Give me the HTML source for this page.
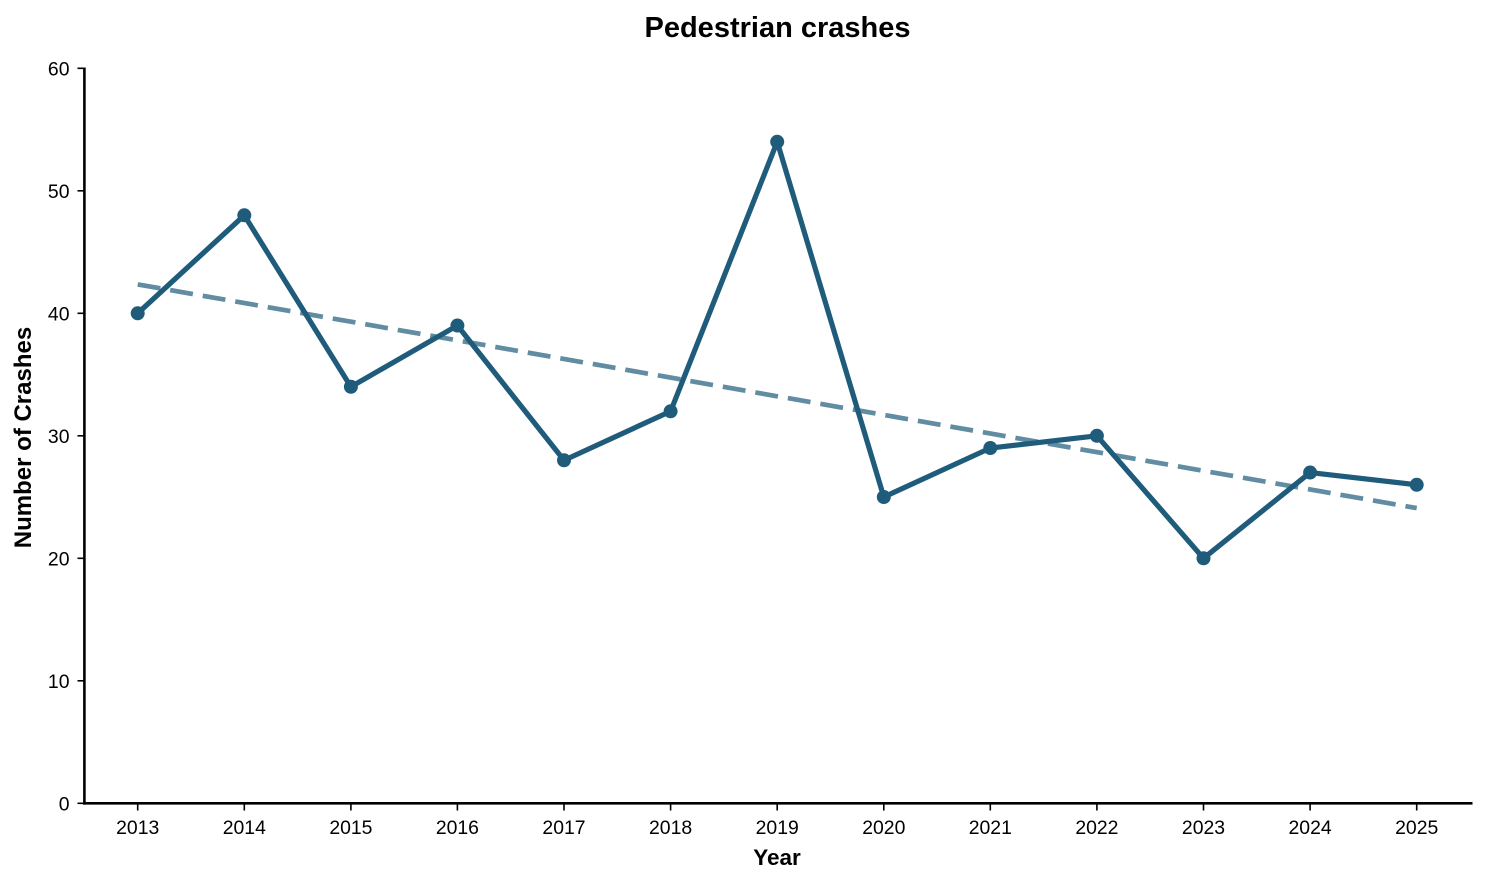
<!DOCTYPE html>
<html>
<head>
<meta charset="utf-8">
<style>
  html, body { margin: 0; padding: 0; background: #ffffff; }
  svg { display: block; }
  text { font-family: "Liberation Sans", Arial, sans-serif; fill: #000; }
</style>
</head>
<body>
<svg width="1485" height="884" viewBox="0 0 1485 884" xmlns="http://www.w3.org/2000/svg">
  <rect width="1485" height="884" fill="#ffffff"/>

  <!-- Title -->
  <text x="777.5" y="37" font-size="29" font-weight="bold" text-anchor="middle">Pedestrian crashes</text>

  <!-- Trend line -->
  <line x1="137.7" y1="284.4" x2="1416.7" y2="508.1" stroke="#1f5b7b" stroke-opacity="0.7" stroke-width="4.7" stroke-dasharray="23 10" stroke-linecap="butt"/>

  <!-- Data line -->
  <polyline fill="none" stroke="#1f5b7b" stroke-width="5.2" stroke-linejoin="round" stroke-linecap="round"
    points="137.7,313.3 244.3,215.3 350.9,386.8 457.4,325.55 564.0,460.3 670.6,411.3 777.2,141.8 883.8,497.05 990.3,448.05 1096.9,435.8 1203.5,558.3 1310.1,472.55 1416.7,484.8"/>

  <!-- Markers -->
  <g fill="#1f5b7b">
    <circle cx="137.7" cy="313.3" r="7"/>
    <circle cx="244.3" cy="215.3" r="7"/>
    <circle cx="350.9" cy="386.8" r="7"/>
    <circle cx="457.4" cy="325.55" r="7"/>
    <circle cx="564.0" cy="460.3" r="7"/>
    <circle cx="670.6" cy="411.3" r="7"/>
    <circle cx="777.2" cy="141.8" r="7"/>
    <circle cx="883.8" cy="497.05" r="7"/>
    <circle cx="990.3" cy="448.05" r="7"/>
    <circle cx="1096.9" cy="435.8" r="7"/>
    <circle cx="1203.5" cy="558.3" r="7"/>
    <circle cx="1310.1" cy="472.55" r="7"/>
    <circle cx="1416.7" cy="484.8" r="7"/>
  </g>

  <!-- Spines -->
  <line x1="84.4" y1="67.5" x2="84.4" y2="804.6" stroke="#000" stroke-width="2.6"/>
  <line x1="83.1" y1="803.3" x2="1472.5" y2="803.3" stroke="#000" stroke-width="2.6"/>

  <!-- Y ticks -->
  <g stroke="#000" stroke-width="1.6">
    <line x1="77.5" y1="803.3" x2="84" y2="803.3"/>
    <line x1="77.5" y1="680.8" x2="84" y2="680.8"/>
    <line x1="77.5" y1="558.3" x2="84" y2="558.3"/>
    <line x1="77.5" y1="435.8" x2="84" y2="435.8"/>
    <line x1="77.5" y1="313.3" x2="84" y2="313.3"/>
    <line x1="77.5" y1="190.8" x2="84" y2="190.8"/>
    <line x1="77.5" y1="68.3" x2="84" y2="68.3"/>
  </g>
  <g font-size="19.4" text-anchor="end">
    <text x="69.5" y="810.3">0</text>
    <text x="69.5" y="687.8">10</text>
    <text x="69.5" y="565.3">20</text>
    <text x="69.5" y="442.8">30</text>
    <text x="69.5" y="320.3">40</text>
    <text x="69.5" y="197.8">50</text>
    <text x="69.5" y="75.3">60</text>
  </g>

  <!-- X ticks -->
  <g stroke="#000" stroke-width="1.6">
    <line x1="137.7" y1="804" x2="137.7" y2="810.5"/>
    <line x1="244.3" y1="804" x2="244.3" y2="810.5"/>
    <line x1="350.9" y1="804" x2="350.9" y2="810.5"/>
    <line x1="457.4" y1="804" x2="457.4" y2="810.5"/>
    <line x1="564.0" y1="804" x2="564.0" y2="810.5"/>
    <line x1="670.6" y1="804" x2="670.6" y2="810.5"/>
    <line x1="777.2" y1="804" x2="777.2" y2="810.5"/>
    <line x1="883.8" y1="804" x2="883.8" y2="810.5"/>
    <line x1="990.3" y1="804" x2="990.3" y2="810.5"/>
    <line x1="1096.9" y1="804" x2="1096.9" y2="810.5"/>
    <line x1="1203.5" y1="804" x2="1203.5" y2="810.5"/>
    <line x1="1310.1" y1="804" x2="1310.1" y2="810.5"/>
    <line x1="1416.7" y1="804" x2="1416.7" y2="810.5"/>
  </g>
  <g font-size="19.4" text-anchor="middle">
    <text x="137.7" y="834">2013</text>
    <text x="244.3" y="834">2014</text>
    <text x="350.9" y="834">2015</text>
    <text x="457.4" y="834">2016</text>
    <text x="564.0" y="834">2017</text>
    <text x="670.6" y="834">2018</text>
    <text x="777.2" y="834">2019</text>
    <text x="883.8" y="834">2020</text>
    <text x="990.3" y="834">2021</text>
    <text x="1096.9" y="834">2022</text>
    <text x="1203.5" y="834">2023</text>
    <text x="1310.1" y="834">2024</text>
    <text x="1416.7" y="834">2025</text>
  </g>

  <!-- Axis labels -->
  <text x="777" y="865" font-size="22.5" font-weight="bold" text-anchor="middle">Year</text>
  <text x="0" y="0" font-size="24" font-weight="bold" text-anchor="middle" transform="translate(31,437.5) rotate(-90)">Number of Crashes</text>
</svg>
</body>
</html>
